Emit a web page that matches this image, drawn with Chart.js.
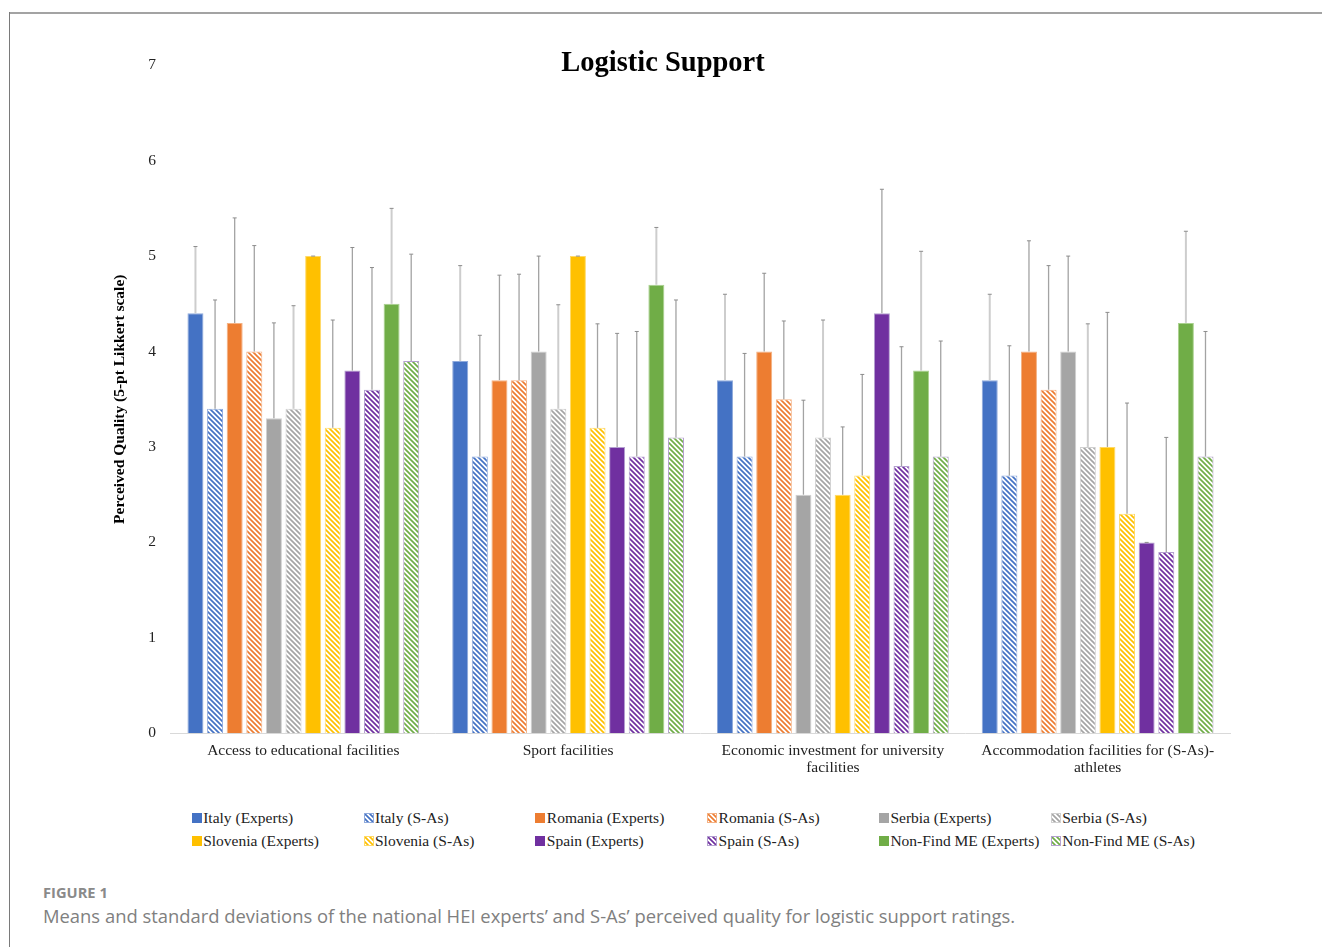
<!DOCTYPE html>
<html><head><meta charset="utf-8">
<script src="https://cdn.jsdelivr.net/npm/chart.js@4"></script>
<style>
html,body{margin:0;padding:0;background:#fff;width:1322px;height:947px;overflow:hidden;position:relative}
#frameTop{position:absolute;left:9px;top:12px;width:1313px;height:2px;background:#a3a3a3}
#frameLeft{position:absolute;left:9px;top:12px;width:1px;height:935px;background:#7a7a7a}
#wrap{position:absolute;left:10px;top:14px;width:1296px;height:780px}
#legend{position:absolute;left:0;top:0;width:1322px;height:0;font-family:'Liberation Serif',serif;font-size:15.5px;color:#222}
.li{position:absolute;white-space:nowrap;line-height:18px}
.li canvas{position:absolute;left:0;top:4px}
.li span{position:absolute;left:11.5px;top:0}
#fig{position:absolute;left:43px;top:882px;font-family:'Open Sans',sans-serif;font-weight:700;font-size:14.7px;color:#8a8a8a}
#cap{position:absolute;left:43px;top:903px;font-family:'Open Sans',sans-serif;font-size:18.4px;color:#808080;white-space:nowrap}
</style></head>
<body>
<div id="frameTop"></div><div id="frameLeft"></div>
<div id="wrap"><canvas id="c"></canvas></div>
<div id="legend"></div>
<div id="fig">FIGURE 1</div>
<div id="cap">Means and standard deviations of the national HEI experts’ and S-As’ perceived quality for logistic support ratings.</div>
<script>
// ---- data ----
const categories = ['Access to educational facilities', 'Sport facilities',
  ['Economic investment for university', 'facilities'],
  ['Accommodation facilities for (S-As)-', 'athletes']];
const seriesNames = ['Italy (Experts)', 'Italy (S-As)', 'Romania (Experts)', 'Romania (S-As)',
  'Serbia (Experts)', 'Serbia (S-As)', 'Slovenia (Experts)', 'Slovenia (S-As)',
  'Spain (Experts)', 'Spain (S-As)', 'Non-Find ME (Experts)', 'Non-Find ME (S-As)'];
const italyExp = [4.4, 3.9, 3.7, 3.7];
const italySAs = [3.4, 2.9, 2.9, 2.7];
const romaniaExp = [4.3, 3.7, 4.0, 4.0];
const romaniaSAs = [4.0, 3.7, 3.5, 3.6];
const serbiaExp = [3.3, 4.0, 2.5, 4.0];
const serbiaSAs = [3.4, 3.4, 3.1, 3.0];
const sloveniaExp = [5.0, 5.0, 2.5, 3.0];
const sloveniaSAs = [3.2, 3.2, 2.7, 2.3];
const spainExp = [3.8, 3.0, 4.4, 2.0];
const spainSAs = [3.6, 2.9, 2.8, 1.9];
const nfExp = [4.5, 4.7, 3.8, 4.3];
const nfSAs = [3.9, 3.1, 2.9, 2.9];
// standard deviations (drawn upward only)
const italyExpSD = [0.7, 1.0, 0.9, 0.9];
const italySAsSD = [1.14, 1.27, 1.08, 1.36];
const romaniaExpSD = [1.1, 1.1, 0.82, 1.16];
const romaniaSAsSD = [1.11, 1.11, 0.82, 1.3];
const serbiaExpSD = [1.0, 1.0, 0.99, 1.0];
const serbiaSAsSD = [1.08, 1.09, 1.23, 1.29];
const sloveniaExpSD = [0, 0, 0.71, 1.41];
const sloveniaSAsSD = [1.13, 1.09, 1.06, 1.16];
const spainExpSD = [1.29, 1.19, 1.3, 0];
const spainSAsSD = [1.28, 1.31, 1.25, 1.2];
const nfExpSD = [1.0, 0.6, 1.25, 0.96];
const nfSAsSD = [1.12, 1.44, 1.21, 1.31];
const yTicks = [0, 1, 2, 3, 4, 5, 6, 7];

const values = [italyExp, italySAs, romaniaExp, romaniaSAs, serbiaExp, serbiaSAs,
  sloveniaExp, sloveniaSAs, spainExp, spainSAs, nfExp, nfSAs];
const sds = [italyExpSD, italySAsSD, romaniaExpSD, romaniaSAsSD, serbiaExpSD, serbiaSAsSD,
  sloveniaExpSD, sloveniaSAsSD, spainExpSD, spainSAsSD, nfExpSD, nfSAsSD];

// ---- styles ----
const base = ['#4472C4', '#4472C4', '#ED7D31', '#ED7D31', '#A5A5A5', '#A5A5A5',
  '#FFC000', '#FFC000', '#7030A0', '#7030A0', '#70AD47', '#70AD47'];
const edge = ['#8faadc', '#8faadc', '#f4b183', '#f4b183', '#d0d0d0', '#d0d0d0',
  '#ffd966', '#ffd966', '#b4a0d0', '#b4a0d0', '#a9d18e', '#b4a0d0'];
const errLight = [true, false, false, false, false, true, false, false, false, false, true, false];

function hatchCanvas(color, w, h) {
  const c = document.createElement('canvas'); c.width = w; c.height = h;
  const x = c.getContext('2d'); x.fillStyle = '#fff'; x.fillRect(0, 0, w, h);
  x.strokeStyle = color; x.lineWidth = 1.7; x.beginPath();
  for (let k = -h - 5; k < w + 5; k += 5) { x.moveTo(k - 1, -1); x.lineTo(k + h + 1, h + 1); }
  x.stroke();
  return c;
}
function hatch(color) {
  const c = hatchCanvas(color, 5, 5);
  return c.getContext('2d').createPattern(c, 'repeat');
}

const datasets = seriesNames.map((name, i) => {
  const hatched = i % 2 === 1;
  return {
    label: name,
    data: values[i],
    sd: sds[i],
    backgroundColor: hatched ? hatch(base[i]) : base[i],
    borderColor: edge[i],
    borderWidth: 1,
    errColor: errLight[i] ? '#cdcdcd' : '#a3a3a3',
    errWidth: errLight[i] ? 2 : 1.3,
    categoryPercentage: 0.889,
    barPercentage: 0.816
  };
});

const errorBars = {
  id: 'errorBars',
  afterDatasetsDraw(chart) {
    const ctx = chart.ctx, y = chart.scales.y;
    chart.data.datasets.forEach((ds, i) => {
      const meta = chart.getDatasetMeta(i);
      meta.data.forEach((bar, j) => {
        const top = y.getPixelForValue(ds.data[j] + ds.sd[j]);
        ctx.save();
        ctx.strokeStyle = ds.errColor; ctx.lineWidth = ds.errWidth;
        ctx.beginPath(); ctx.moveTo(bar.x, bar.y); ctx.lineTo(bar.x, top); ctx.stroke();
        ctx.strokeStyle = '#8c8c8c'; ctx.lineWidth = 1;
        ctx.beginPath(); ctx.moveTo(bar.x - 2, top); ctx.lineTo(bar.x + 2, top); ctx.stroke();
        ctx.restore();
      });
    });
  }
};

const serif = "'Liberation Serif', 'Times New Roman', serif";
new Chart(document.getElementById('c'), {
  type: 'bar',
  data: { labels: categories, datasets },
  plugins: [errorBars],
  options: {
    responsive: true, maintainAspectRatio: false, animation: false,
    layout: { padding: { left: 86, right: 76, top: 0, bottom: 8 } },
    plugins: {
      legend: { display: false },
      tooltip: { enabled: false },
      title: { display: true, text: 'Logistic Support', color: '#000',
        font: { family: serif, size: 28.5, weight: 'bold', lineHeight: 1.2 },
        padding: { top: 33, bottom: -16 } }
    },
    scales: {
      x: {
        grid: { display: false, drawTicks: false },
        border: { display: true, color: '#d9d9d9', width: 1 },
        ticks: { color: '#222', font: { family: serif, size: 15.5, lineHeight: 1.12 },
          padding: 9, maxRotation: 0, minRotation: 0, autoSkip: false }
      },
      y: {
        min: 0, max: 7,
        afterBuildTicks: s => { s.ticks = yTicks.map(v => ({ value: v })); },
        grid: { display: false, drawTicks: false },
        border: { display: false },
        ticks: { color: '#222', font: { family: serif, size: 15.5 }, padding: 15 },
        title: { display: true, text: 'Perceived Quality (5-pt Likkert scale)', color: '#000',
          font: { family: serif, size: 15.5, weight: 'bold', lineHeight: 1.2 },
          padding: { top: 14.7, bottom: 3.9 } }
      }
    }
  }
});

// ---- HTML legend in a 6-column grid ----
const lg = document.getElementById('legend');
seriesNames.forEach((name, i) => {
  const col = i % 6, row = Math.floor(i / 6);
  const d = document.createElement('div'); d.className = 'li';
  d.style.left = (191.7 + col * 171.8) + 'px';
  d.style.top = (809 + row * 23) + 'px';
  let sw;
  if (i % 2 === 1) { sw = hatchCanvas(base[i], 10, 10);
    const x = sw.getContext('2d'); x.strokeStyle = edge[i]; x.lineWidth = 1; x.strokeRect(0.5, 0.5, 9, 9);
  } else { sw = document.createElement('canvas'); sw.width = 10; sw.height = 10;
    const x = sw.getContext('2d'); x.fillStyle = base[i]; x.fillRect(0, 0, 10, 10); }
  d.appendChild(sw);
  const t = document.createElement('span'); t.textContent = name; d.appendChild(t);
  lg.appendChild(d);
});
</script>
</body></html>
